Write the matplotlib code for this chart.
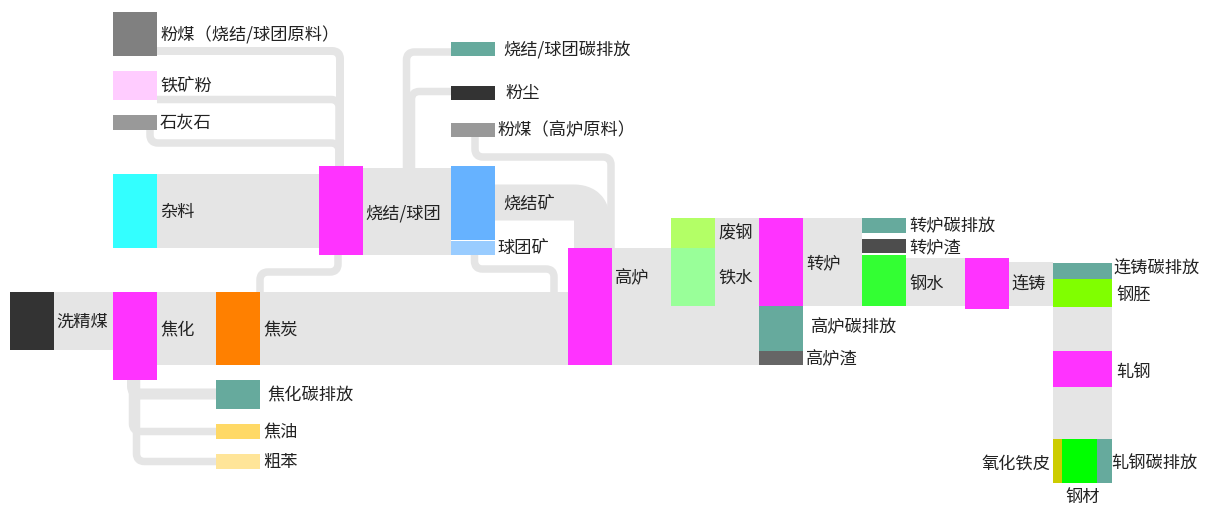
import matplotlib.pyplot as plt
from matplotlib.patches import Rectangle, PathPatch
from matplotlib.path import Path
import numpy as np

plt.rcParams['font.family'] = ['Noto Sans CJK SC', 'DejaVu Sans']

##### data #####
node_names = ['洗精煤', '焦化', '焦炭', '焦化碳排放', '焦油', '粗苯',
              '粉煤（烧结/球团原料）', '铁矿粉', '石灰石', '杂料', '烧结/球团',
              '烧结/球团碳排放', '粉尘', '粉煤（高炉原料）', '烧结矿', '球团矿',
              '高炉', '废钢', '铁水', '转炉', '高炉碳排放', '高炉渣',
              '转炉碳排放', '转炉渣', '钢水', '连铸', '连铸碳排放', '钢胚',
              '轧钢', '氧化铁皮', '钢材', '轧钢碳排放']
node_colors = ['#333333', '#ff33ff', '#ff8000', '#66aa9d', '#ffd966', '#ffe599',
               '#808080', '#ffccff', '#999999', '#33ffff', '#ff33ff',
               '#66aa9d', '#333333', '#999999', '#66b2ff', '#99ccff',
               '#ff33ff', '#b3ff66', '#99ff99', '#ff33ff', '#66aa9d', '#666666',
               '#66aa9d', '#4d4d4d', '#33ff33', '#ff33ff', '#66aa9d', '#80ff00',
               '#ff33ff', '#cccc00', '#00ff00', '#66aa9d']

# wide flows: (source, target, band top, band bottom)
wide_links = [('洗精煤', '焦化', 292, 350),
              ('焦化', '焦炭', 292, 365),
              ('焦炭', '高炉', 292, 365),
              ('杂料', '烧结/球团', 174, 248),
              ('烧结/球团', '烧结矿', 168, 255),
              ('高炉', '铁水', 248, 306),
              ('高炉', '高炉渣', 306, 365),
              ('废钢', '转炉', 218, 248),
              ('铁水', '转炉', 248, 306),
              ('转炉', '钢水', 218, 306),
              ('钢水', '连铸', 258, 306),
              ('连铸', '钢胚', 262, 306)]
# vertical flows in the last column: (source, target)
down_links = [('钢胚', '轧钢'), ('轧钢', '氧化铁皮')]
# routed flows: (source, target, band width)
routed_links = [('粉煤（烧结/球团原料）', '烧结/球团', 8),
                ('铁矿粉', '烧结/球团', 7.5),
                ('石灰石', '烧结/球团', 7.5),
                ('焦炭', '烧结/球团', 7.5),
                ('烧结/球团', '烧结/球团碳排放', 7.5),
                ('烧结/球团', '粉尘', 7.5),
                ('粉煤（高炉原料）', '高炉', 7.5),
                ('烧结矿', '高炉', 36),
                ('球团矿', '高炉', 7.5),
                ('焦化', '焦化碳排放', 11),
                ('焦化', '焦油', 7.5),
                ('焦化', '粗苯', 7.5)]

##### layout (pixels) #####
node_box = {  # x0, x1, y0, y1
    '洗精煤': (10, 54, 292, 350), '焦化': (113, 157, 292, 380),
    '焦炭': (216, 260, 292, 365), '焦化碳排放': (216, 260, 380, 409),
    '焦油': (216, 260, 424, 439), '粗苯': (216, 260, 454, 469),
    '粉煤（烧结/球团原料）': (113, 157, 12, 56), '铁矿粉': (113, 157, 71, 100),
    '石灰石': (113, 157, 115, 130), '杂料': (113, 157, 174, 248),
    '烧结/球团': (319, 363, 166, 255),
    '烧结/球团碳排放': (451, 495, 42, 56), '粉尘': (451, 495, 86, 100),
    '粉煤（高炉原料）': (451, 495, 123, 137), '烧结矿': (451, 495, 166, 240),
    '球团矿': (451, 495, 241, 255),
    '高炉': (568, 612, 248, 365), '废钢': (671, 715, 218, 248),
    '铁水': (671, 715, 248, 306), '转炉': (759, 803, 218, 306),
    '高炉碳排放': (759, 803, 306, 351), '高炉渣': (759, 803, 351, 365),
    '转炉碳排放': (862, 906, 218, 233), '转炉渣': (862, 906, 239, 253),
    '钢水': (862, 906, 255, 306), '连铸': (965, 1009, 258, 309),
    '连铸碳排放': (1053, 1112, 263, 279), '钢胚': (1053, 1112, 279, 307),
    '轧钢': (1053, 1112, 351, 387),
    '氧化铁皮': (1053, 1062, 439, 483), '钢材': (1062, 1097, 439, 483),
    '轧钢碳排放': (1097, 1112, 439, 483),
}
label_pos = {  # x, y, ha
    '洗精煤': (56, 322, 'left'), '焦化': (160, 330, 'left'),
    '焦炭': (263, 330, 'left'), '焦化碳排放': (267, 395, 'left'),
    '焦油': (263, 432, 'left'), '粗苯': (263, 462, 'left'),
    '粉煤（烧结/球团原料）': (160, 35, 'left'), '铁矿粉': (160, 86, 'left'),
    '石灰石': (160, 123, 'left'), '杂料': (160, 212, 'left'),
    '烧结/球团': (365, 214, 'left'),
    '烧结/球团碳排放': (503, 49, 'left'), '粉尘': (505, 93, 'left'),
    '粉煤（高炉原料）': (497, 130, 'left'), '烧结矿': (503, 204, 'left'),
    '球团矿': (497, 248, 'left'),
    '高炉': (615, 278, 'left'), '废钢': (718, 233, 'left'),
    '铁水': (718, 278, 'left'), '转炉': (806, 263, 'left'),
    '高炉碳排放': (811, 327, 'left'), '高炉渣': (806, 359, 'left'),
    '转炉碳排放': (909, 226, 'left'), '转炉渣': (909, 247, 'left'),
    '钢水': (909, 284, 'left'), '连铸': (1012, 285, 'left'),
    '连铸碳排放': (1113, 269, 'left'), '钢胚': (1116, 296, 'left'),
    '轧钢': (1116, 372, 'left'),
    '氧化铁皮': (1051, 464, 'right'), '钢材': (1083, 497, 'center'),
    '轧钢碳排放': (1111, 464, 'left'),
}
routes = {  # centre lines of the routed flows
    ('粉煤（烧结/球团原料）', '烧结/球团'): [(157, 51), (340, 51), (340, 166)],
    ('铁矿粉', '烧结/球团'): [(157, 99.5), (339, 99.5), (339, 166)],
    ('石灰石', '烧结/球团'): [(150, 130), (150, 143), (339, 143), (339, 166)],
    ('焦炭', '烧结/球团'): [(260, 292), (260, 272), (338, 272), (338, 255)],
    ('烧结/球团', '烧结/球团碳排放'): [(406.5, 170), (406.5, 52), (451, 52)],
    ('烧结/球团', '粉尘'): [(411.5, 170), (411.5, 91.5), (451, 91.5)],
    ('粉煤（高炉原料）', '高炉'): [(475, 137), (475, 157), (611, 157), (611, 248)],
    ('烧结矿', '高炉'): [(495, 202.5), (592, 202.5), (592, 248)],
    ('球团矿', '高炉'): [(474.5, 255), (474.5, 269), (554, 269), (554, 292)],
    ('焦化', '焦化碳排放'): [(132.5, 380), (132.5, 394), (216, 394)],
    ('焦化', '焦油'): [(132.5, 380), (132.5, 431.5), (216, 431.5)],
    ('焦化', '粗苯'): [(136.5, 380), (136.5, 461.5), (216, 461.5)],
}
LINK = '#e5e5e5'
W, H = 1211, 508


##### functions #####
def rounded_path(pts, r):
    pts = [np.array(p, dtype=float) for p in pts]
    verts = [tuple(pts[0])]
    codes = [Path.MOVETO]
    n = len(pts)
    for i in range(1, n - 1):
        p0, p1, p2 = pts[i - 1], pts[i], pts[i + 1]
        l1 = np.linalg.norm(p1 - p0)
        l2 = np.linalg.norm(p2 - p1)
        f1 = 1.0 if i == 1 else 0.5
        f2 = 1.0 if i == n - 2 else 0.5
        rr = min(r, l1 * f1, l2 * f2)
        a = p1 - (p1 - p0) / l1 * rr
        b = p1 + (p2 - p1) / l2 * rr
        verts += [tuple(a), tuple(p1), tuple(b)]
        codes += [Path.LINETO, Path.CURVE3, Path.CURVE3]
    verts.append(tuple(pts[-1]))
    codes.append(Path.LINETO)
    return Path(verts, codes)


##### plot #####
fig = plt.figure(figsize=(W / 100, H / 100), dpi=100)
ax = fig.add_axes([0, 0, 1, 1])
ax.set_xlim(0, W)
ax.set_ylim(H, 0)
ax.set_axis_off()

px = 72 / fig.dpi  # pixel -> points

for src, dst, y0, y1 in wide_links:
    x0 = node_box[src][1]
    x1 = node_box[dst][0]
    ax.add_patch(Rectangle((x0, y0), x1 - x0, y1 - y0, color=LINK, lw=0, zorder=1))

for src, dst in down_links:
    bx = node_box[src]
    y0 = bx[3]
    y1 = node_box[dst][2]
    ax.add_patch(Rectangle((bx[0], y0), bx[1] - bx[0], y1 - y0, color=LINK, lw=0, zorder=1))

for src, dst, w in routed_links:
    r = w / 2 if w > 20 else 8
    path = rounded_path(routes[(src, dst)], r)
    ax.add_patch(PathPatch(path, facecolor='none', edgecolor=LINK, lw=w * px,
                           capstyle='butt', joinstyle='round', zorder=1))

for name, col in zip(node_names, node_colors):
    x0, x1, y0, y1 = node_box[name]
    ax.add_patch(Rectangle((x0, y0), x1 - x0, y1 - y0, facecolor=col,
                           edgecolor='none', zorder=2))
    lx, ly, ha = label_pos[name]
    ax.text(lx, ly, name, ha=ha, va='center', fontsize=12.4, color='#222222', zorder=3)

fig.savefig('out.png', dpi=100)
